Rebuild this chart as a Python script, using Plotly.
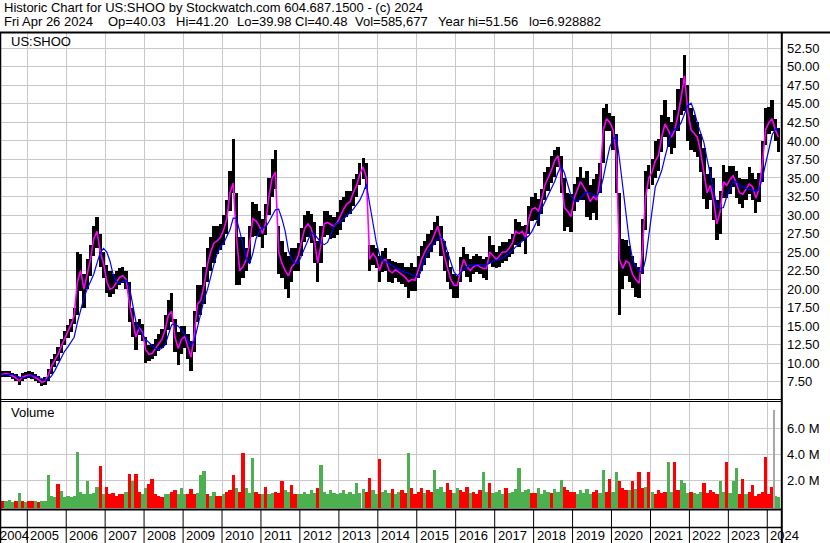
import pandas as pd
import plotly.graph_objects as go

W, H = 830, 543
FONT = "Liberation Sans, Arial, sans-serif"

# one bar per month, Apr 2004 .. Apr 2024
months = pd.period_range("2004-04", "2024-04", freq="M").to_timestamp()

# monthly price range (low / high)
lo = [
    8.0, 8.1, 8.2, 8.1, 7.8, 7.6, 7.0, 7.6, 7.8,                          # 2004 Apr-Dec
    8.0, 7.9, 7.6, 7.3, 6.9, 7.1, 7.6, 8.6, 9.5, 10.3, 11.4, 12.5,        # 2005
    13.4, 14.2, 15.3, 16.5, 19.8, 17.5, 20.0, 21.8, 24.5, 25.5, 23.0, 21.5,
    19.5, 19.0, 19.3, 20.0, 20.5, 20.8, 20.0, 15.5, 13.5, 11.8, 13.8, 13.0,
    10.0, 10.3, 10.6, 11.0, 11.6, 12.0, 12.5, 14.5, 15.5, 11.5, 9.8, 11.2,
    12.0, 10.5, 8.9, 11.5, 15.5, 16.5, 18.0, 21.0, 22.5, 23.5, 24.8, 25.3,
    26.0, 27.5, 30.5, 33.0, 20.5, 20.5, 21.5, 22.5, 23.5, 27.0, 27.2, 27.0,
    25.5, 27.3, 30.0, 32.5, 33.5, 22.0, 21.5, 20.0, 18.8, 21.0, 22.5, 22.5,
    24.5, 26.3, 27.0, 26.2, 23.5, 21.0, 23.5, 27.0, 27.3, 26.8, 26.9, 27.3,
    28.0, 29.0, 29.8, 30.2, 31.2, 32.5, 34.0, 34.8, 33.5, 22.5, 23.2, 22.8,
    21.0, 22.3, 22.5, 21.0, 20.8, 21.5, 21.0, 20.7, 20.3, 18.8, 19.8, 19.8,
    21.5, 22.5, 23.3, 24.2, 25.0, 26.0, 26.5, 24.5, 22.5, 21.0, 20.0, 18.8,
    18.8, 21.0, 22.5, 21.7, 21.0, 22.0, 22.3, 22.0, 21.5, 21.2, 23.5, 23.0,
    22.8, 23.0, 23.5, 23.8, 24.3, 24.7, 26.0, 25.7, 26.5, 24.8, 27.5, 29.2,
    29.3, 28.5, 30.2, 32.0, 33.3, 34.3, 35.2, 36.5, 33.0, 27.8, 28.4, 27.7,
    30.5, 31.8, 32.0, 32.0, 29.8, 29.3, 30.3, 29.3, 33.0, 37.0, 41.3, 41.3,
    38.8, 33.0, 16.5, 20.0, 21.8, 21.0, 20.2, 18.9, 18.8, 22.0, 28.0, 33.5,
    34.0, 35.0, 36.0, 38.5, 40.5, 39.2, 38.3, 39.0, 41.3, 43.5, 44.0, 40.0,
    38.8, 38.5, 37.8, 35.8, 32.2, 30.8, 32.0, 29.3, 26.6, 27.5, 32.3, 32.3,
    32.8, 33.8, 32.3, 31.5, 31.0, 32.0, 32.8, 32.0, 30.3, 31.8, 34.5, 39.5,
    41.0, 41.3, 40.0, 38.5,                                               # 2024 Jan-Apr
]
hi = [
    9.0, 9.0, 9.0, 8.9, 8.7, 8.5, 8.1, 8.7, 8.8,
    8.9, 8.8, 8.6, 8.3, 7.9, 8.1, 9.2, 10.5, 11.3, 12.2, 13.2, 14.3,
    15.2, 16.0, 17.5, 25.0, 24.8, 22.0, 24.0, 26.0, 28.5, 29.8, 27.5, 25.0,
    23.2, 22.5, 22.0, 22.5, 22.8, 23.0, 22.5, 21.0, 17.5, 15.5, 16.0, 15.3,
    13.5, 12.5, 12.6, 13.2, 14.0, 14.6, 16.5, 18.5, 19.5, 16.0, 14.2, 15.0,
    15.0, 14.0, 13.0, 17.0, 20.5, 20.5, 23.0, 25.5, 27.0, 28.5, 28.5, 28.8,
    30.0, 32.0, 36.0, 40.3, 33.0, 27.0, 27.0, 25.5, 28.5, 31.8, 31.5, 30.5,
    29.5, 31.5, 35.0, 37.5, 38.8, 28.5, 26.5, 25.0, 24.5, 25.5, 25.5, 26.2,
    28.3, 30.0, 30.5, 30.2, 29.0, 26.5, 28.5, 30.5, 30.5, 30.0, 29.8, 30.4,
    32.0, 32.5, 33.2, 33.2, 34.8, 35.5, 37.0, 37.7, 37.0, 26.0, 26.0, 25.5,
    24.5, 25.2, 25.5, 24.0, 23.8, 23.7, 23.5, 23.5, 23.0, 23.0, 23.5, 23.0,
    24.5, 25.8, 26.5, 27.5, 28.0, 29.0, 29.9, 28.5, 26.5, 25.0, 23.0, 22.0,
    21.8, 24.3, 25.7, 24.8, 24.0, 24.5, 24.8, 24.5, 24.0, 24.3, 27.2, 26.0,
    25.0, 25.8, 26.3, 26.3, 26.7, 27.5, 29.5, 29.0, 28.5, 28.6, 31.2, 32.5,
    33.0, 32.2, 33.5, 35.8, 36.5, 38.0, 38.8, 39.2, 38.0, 35.0, 33.0, 32.8,
    34.2, 35.2, 36.5, 35.0, 36.0, 34.0, 34.8, 35.5, 37.0, 44.5, 45.0, 43.8,
    43.3, 41.0, 33.0, 26.8, 26.6, 25.8, 24.5, 23.5, 23.0, 29.5, 36.0, 36.8,
    37.5, 40.0, 40.3, 43.5, 45.5, 43.2, 42.5, 44.2, 47.0, 48.5, 51.6, 47.5,
    44.5, 43.5, 42.5, 41.0, 39.0, 35.5, 36.5, 35.0, 32.0, 33.2, 36.7, 35.8,
    36.6, 36.6, 36.0, 35.0, 34.8, 34.8, 36.5, 35.7, 34.8, 35.7, 40.0, 44.5,
    44.6, 45.5, 43.0, 41.8,
]
# short moving average (magenta)
ma_fast = [
    8.4, 8.5, 8.6, 8.5, 8.3, 8.0, 7.6, 8.1, 8.3,
    8.4, 8.3, 8.1, 7.8, 7.4, 7.6, 8.4, 9.6, 10.4, 11.2, 12.3, 13.4,
    14.3, 15.2, 16.5, 21.0, 22.5, 20.0, 22.0, 24.0, 26.8, 27.8, 25.0, 23.5,
    21.0, 20.0, 20.2, 21.0, 21.6, 21.8, 21.3, 18.0, 15.5, 13.5, 14.8, 14.2,
    11.8, 11.2, 11.3, 12.0, 12.6, 13.2, 14.5, 16.5, 17.0, 13.5, 12.0, 13.2,
    13.6, 12.2, 10.8, 14.0, 18.0, 18.5, 20.5, 23.2, 25.0, 26.2, 26.5, 27.0,
    28.0, 29.5, 33.0, 34.3, 27.0, 22.5, 23.0, 24.0, 26.0, 29.5, 29.2, 28.5,
    27.5, 29.0, 32.5, 35.0, 35.8, 25.0, 23.5, 22.5, 21.8, 23.0, 23.5, 24.5,
    26.5, 28.2, 28.8, 28.2, 26.5, 23.5, 26.0, 28.8, 29.0, 28.7, 28.5, 29.0,
    30.0, 30.8, 31.5, 31.8, 33.0, 34.0, 35.5, 36.5, 35.0, 24.0, 24.8, 24.2,
    22.5, 23.8, 24.0, 22.5, 22.2, 22.6, 22.3, 22.0, 21.6, 21.0, 21.3, 21.2,
    22.8, 24.0, 25.0, 25.8, 26.3, 27.5, 28.5, 26.8, 24.5, 22.8, 21.3, 20.5,
    20.5, 22.5, 24.0, 23.0, 22.5, 23.0, 23.3, 23.0, 22.8, 22.8, 25.0, 24.5,
    24.0, 24.5, 25.0, 25.0, 25.5, 26.2, 27.8, 27.5, 27.8, 27.0, 29.5, 30.8,
    31.0, 30.5, 32.0, 34.0, 35.0, 36.0, 37.3, 38.0, 35.5, 31.0, 30.5, 29.8,
    32.3, 33.5, 34.5, 33.8, 33.0, 31.8, 32.5, 32.0, 35.0, 41.5, 43.0, 42.5,
    41.5, 38.0, 24.0, 22.8, 23.8, 23.5, 22.0, 21.3, 20.8, 25.0, 32.5, 35.0,
    35.8, 37.3, 38.0, 40.5, 42.3, 41.5, 40.5, 41.5, 43.5, 46.0, 48.8, 44.0,
    41.5, 41.0, 40.5, 38.5, 35.5, 33.0, 34.0, 31.8, 28.8, 30.5, 34.5, 34.0,
    34.8, 35.3, 34.3, 33.0, 32.8, 33.5, 34.2, 33.8, 32.3, 33.5, 37.0, 41.5,
    42.5, 43.0, 41.5, 40.5,
]
# long moving average (blue)
ma_slow = [
    8.4, 8.4, 8.5, 8.5, 8.5, 8.3, 8.1, 8.0, 8.1,
    8.3, 8.3, 8.3, 8.1, 7.9, 7.7, 7.8, 8.3, 9.0, 9.8, 10.7, 11.6,
    12.2, 12.8, 13.5, 15.5, 17.3, 18.8, 20.0, 21.0, 22.0, 23.5, 24.9, 25.5,
    25.0, 23.8, 22.0, 21.0, 20.8, 21.0, 21.2, 20.3, 17.8, 15.6, 14.6, 13.8,
    13.2, 12.8, 12.4, 12.0, 11.8, 12.0, 12.5, 13.8, 15.2, 15.3, 15.0, 14.5,
    13.9, 13.0, 12.4, 13.0, 14.8, 17.0, 18.6, 19.9, 21.8, 23.3, 24.8, 25.7,
    26.2, 27.1, 28.0, 29.6, 29.5, 27.8, 26.0, 24.2, 23.4, 24.8, 26.8, 27.8,
    28.3, 28.4, 29.1, 29.9, 30.7, 30.8, 29.5, 27.8, 25.2, 24.0, 23.5, 23.5,
    24.6, 25.5, 26.6, 27.6, 27.4, 26.9, 26.3, 26.0, 26.3, 27.3, 28.5, 28.9,
    29.1, 29.5, 29.9, 30.3, 30.8, 31.4, 32.0, 33.0, 34.2, 31.5, 28.8, 26.4,
    24.6, 23.8, 23.7, 23.4, 23.2, 22.9, 22.7, 22.4, 22.3, 22.1, 21.9, 21.7,
    21.6, 22.6, 24.0, 25.0, 25.6, 26.3, 26.8, 27.1, 26.5, 25.0, 23.5, 22.3,
    21.8, 22.2, 22.7, 23.0, 23.2, 23.3, 23.3, 23.3, 23.3, 23.3, 23.5, 23.8,
    23.9, 24.0, 24.2, 24.5, 24.8, 25.2, 25.7, 26.1, 26.5, 26.9, 27.2, 27.8,
    28.7, 29.6, 30.8, 31.7, 32.5, 33.5, 34.5, 35.7, 36.6, 35.7, 34.2, 32.6,
    31.9, 31.8, 32.2, 32.8, 33.1, 32.9, 32.8, 32.5, 33.3, 35.0, 37.2, 39.2,
    40.2, 40.7, 37.5, 34.0, 30.0, 26.5, 24.0, 23.0, 22.4, 22.3, 24.0, 27.5,
    31.0, 33.8, 34.8, 36.0, 37.8, 39.5, 41.2, 41.6, 41.8, 42.5, 43.8, 44.8,
    45.1, 44.0, 42.4, 41.2, 39.8, 37.5, 35.3, 33.2, 31.2, 30.9, 31.0, 32.5,
    33.5, 34.5, 34.5, 34.0, 33.8, 33.6, 33.5, 33.3, 33.2, 33.4, 35.0, 37.0,
    39.0, 40.8, 41.6, 41.7,
]
# volume, millions of shares
volume = [
    0.3, 0.35, 0.4, 0.5, 0.3, 0.35, 1.0, 0.4, 0.3,
    0.35, 0.4, 0.35, 0.3, 0.4, 0.4, 2.4, 0.8, 0.7, 1.7, 1.15, 0.7,
    0.8, 0.7, 0.8, 4.2, 1.1, 0.9, 1.9, 0.9, 1.0, 1.5, 3.1, 0.9,
    1.5, 0.9, 1.0, 0.8, 0.9, 0.9, 1.1, 2.5, 1.9, 2.5, 1.1, 0.9,
    1.4, 1.7, 2.1, 0.9, 0.8, 0.7, 0.9, 0.9, 1.1, 1.2, 0.9, 1.4,
    0.9, 0.9, 1.3, 0.9, 1.0, 2.4, 2.7, 0.9, 0.8, 1.1, 0.8, 0.8,
    0.9, 1.1, 1.2, 2.4, 1.4, 1.1, 4.1, 1.4, 1.0, 3.7, 1.1, 0.9,
    0.9, 1.5, 0.9, 1.0, 1.1, 1.0, 1.9, 1.2, 1.1, 1.6, 0.9, 0.9,
    0.9, 1.1, 0.9, 1.2, 1.0, 1.4, 3.2, 1.1, 0.9, 1.2, 1.0, 0.9,
    1.0, 1.2, 0.9, 1.1, 0.9, 1.8, 1.0, 1.3, 1.1, 2.2, 1.2, 0.9,
    3.6, 1.1, 1.2, 1.0, 1.3, 0.9, 1.1, 1.2, 1.0, 4.1, 1.4, 0.9,
    1.1, 1.4, 1.0, 1.2, 1.1, 2.8, 1.3, 1.5, 1.1, 1.8, 1.2, 1.0,
    1.4, 1.2, 1.1, 1.5, 1.0, 1.1, 0.9, 1.2, 2.6, 1.1, 1.8, 1.0,
    1.1, 1.2, 0.9, 1.4, 1.0, 1.1, 1.3, 2.9, 1.1, 1.2, 1.3, 1.0,
    1.0, 1.4, 0.9, 1.2, 1.1, 1.0, 1.3, 1.1, 2.0, 1.5, 1.2, 1.1,
    1.1, 0.9, 1.2, 1.0, 1.3, 0.9, 1.1, 1.2, 1.0, 2.8, 1.1, 2.1,
    1.1, 2.6, 1.9, 1.4, 1.2, 1.2, 1.9, 1.3, 2.6, 1.4, 1.5, 2.6,
    1.1, 0.9, 1.2, 1.0, 1.1, 3.4, 1.1, 3.4, 1.2, 2.0, 1.8, 1.0,
    1.1, 1.0, 0.9, 1.1, 1.8, 1.0, 1.2, 1.1, 0.9, 1.9, 1.1, 3.4,
    1.0, 1.9, 2.9, 0.9, 2.1, 0.9, 1.1, 1.6, 0.8, 0.9, 1.1, 3.8,
    0.9, 1.5, 0.8, 0.7,
]
# single outsized volume day drawn in grey
spike_dates = ["2024-03-08"]
spike_volume = [7.4]

price_ticks = [7.5, 10.0, 12.5, 15.0, 17.5, 20.0, 22.5, 25.0, 27.5, 30.0,
               32.5, 35.0, 37.5, 40.0, 42.5, 45.0, 47.5, 50.0, 52.5]
price_tick_text = ["7.50", "10.00", "12.50", "15.00", "17.50", "20.00", "22.50",
                   "25.00", "27.50", "30.00", "32.50", "35.00", "37.50", "40.00",
                   "42.50", "45.00", "47.50", "50.00", "52.50"]
volume_ticks = [2, 4, 6]
volume_tick_text = ["2.0 M", "4.0 M", "6.0 M"]
year_labels = ["2004", "2005", "2006", "2007", "2008", "2009", "2010", "2011",
               "2012", "2013", "2014", "2015", "2016", "2017", "2018", "2019",
               "2020", "2021", "2022", "2023", "2024"]

title_line = "Historic Chart for US:SHOO by Stockwatch.com 604.687.1500 - (c) 2024"
quote_fields = ["Fri Apr 26 2024", "Op=40.03", "Hi=41.20", "Lo=39.98", "Cl=40.48",
                "Vol=585,677", "Year hi=51.56", "lo=6.928882"]
quote_x = [2, 106, 174, 235, 293, 353, 436, 527]  # left edge in px

assert len(months) == len(lo) == len(hi) == len(ma_fast) == len(ma_slow) == len(volume)


def py(px):
    return 1 - px / H


# pixel calibration of the time axis: 1 Jan 2005 at x=27.3, 38.95 px per year
PLOT_RIGHT = 781
px_ms = pd.Timedelta(days=365.25).value / 1e6 / 38.95
x0 = pd.Timestamp("2005-01-01") - pd.Timedelta(milliseconds=27.3 * px_ms)
x1 = pd.Timestamp("2005-01-01") + pd.Timedelta(milliseconds=(PLOT_RIGHT - 27.3) * px_ms)
month_ms = 30.6 * 86400000

# up month (close above mid of range) green, otherwise red
vol_colors = ["#4caf50" if f >= (h + l) / 2 else "#ff0000"
              for f, h, l in zip(ma_fast, hi, lo)]
VOL_FLOOR = -0.155

fig = go.Figure()
fig.add_trace(go.Bar(
    x=months, base=lo, y=[h - l for h, l in zip(hi, lo)],
    xperiod="M1", xperiodalignment="middle", width=month_ms,
    marker=dict(color="black", line=dict(width=0)),
    xaxis="x", yaxis="y",
))
fig.add_trace(go.Scatter(
    x=months, y=ma_fast, xperiod="M1", xperiodalignment="middle",
    mode="lines", line=dict(color="#ff00ff", width=1.6),
    xaxis="x", yaxis="y",
))
fig.add_trace(go.Scatter(
    x=months, y=ma_slow, xperiod="M1", xperiodalignment="middle",
    mode="lines", line=dict(color="#0000ff", width=1.2),
    xaxis="x", yaxis="y",
))
fig.add_trace(go.Bar(
    x=months, base=VOL_FLOOR, y=[v - VOL_FLOOR for v in volume],
    xperiod="M1", xperiodalignment="middle", width=month_ms,
    marker=dict(color=vol_colors, line=dict(width=0)),
    xaxis="x2", yaxis="y2",
))
fig.add_trace(go.Bar(
    x=spike_dates, base=VOL_FLOOR, y=[v - VOL_FLOOR for v in spike_volume],
    width=12 * 86400000,
    marker=dict(color="#a8a8a8", line=dict(width=0)),
    xaxis="x2", yaxis="y2",
))

grid = dict(showgrid=True, gridcolor="#c8c8c8", gridwidth=1, zeroline=False,
            showline=False, fixedrange=True)
xdom = [0, PLOT_RIGHT / W]
fig.update_layout(
    width=W, height=H, margin=dict(l=0, r=0, t=0, b=0),
    paper_bgcolor="white", plot_bgcolor="white",
    showlegend=False, barmode="overlay", bargap=0,
    font=dict(family=FONT, size=13, color="black"),
    xaxis=dict(domain=xdom, range=[x0, x1], type="date", tick0="2005-01-01",
               dtick="M12", showticklabels=False, ticks="", anchor="y", **grid),
    xaxis2=dict(domain=xdom, matches="x", type="date", tick0="2005-01-01",
                dtick="M12", showticklabels=False, ticks="", anchor="y2", **grid),
    yaxis=dict(domain=[py(400), py(33)], range=[5.03, 54.57], side="right",
               tickvals=price_ticks, ticktext=price_tick_text, ticks="",
               ticklabelstandoff=5, tickfont=dict(size=13), anchor="x", **grid),
    yaxis2=dict(domain=[py(508), py(402)], range=[VOL_FLOOR, 8.04], side="right",
                tickvals=volume_ticks, ticktext=volume_tick_text, ticks="",
                ticklabelstandoff=5, tickfont=dict(size=13), anchor="x2", **grid),
)

ann = [dict(text=title_line, x=2 / W, y=py(7.5))]
ann += [dict(text=t, x=xp / W, y=py(21.5)) for t, xp in zip(quote_fields, quote_x)]
ann += [dict(text="US:SHOO", x=9 / W, y=py(41.5)),
        dict(text="Volume", x=9 / W, y=py(413))]
for a in ann:
    a.update(xref="paper", yref="paper", xanchor="left", yanchor="middle",
             showarrow=False, font=dict(size=13, color="black"))

# year labels along the bottom strip
ann.append(dict(text=year_labels[0], x=0, xref="paper", y=py(535), yref="paper",
                xanchor="left", yanchor="middle", xshift=-2, showarrow=False,
                font=dict(size=13, color="black")))
for lab in year_labels[1:]:
    ann.append(dict(text=lab, x=f"{lab}-01-01", xref="x", y=py(535), yref="paper",
                    xanchor="left", yanchor="middle", xshift=1, showarrow=False,
                    font=dict(size=13, color="black")))
fig.update_layout(annotations=ann)


def hline(ypx, x_from, x_to, w=1):
    return dict(type="line", xref="paper", yref="paper", x0=x_from / W, x1=x_to / W,
                y0=py(ypx), y1=py(ypx), line=dict(color="black", width=w), layer="above")


def vline(xpx, y_from, y_to, w=1):
    return dict(type="line", xref="paper", yref="paper", x0=xpx / W, x1=xpx / W,
                y0=py(y_from), y1=py(y_to), line=dict(color="black", width=w), layer="above")


shapes = [
    hline(32.5, 0, W, 2),
    hline(399.5, 0, PLOT_RIGHT, 1),
    hline(401.5, 0, PLOT_RIGHT, 1),
    hline(509.5, 0, PLOT_RIGHT, 2),
    hline(527.5, 0, PLOT_RIGHT, 1.5),
    vline(781.8, 32, H, 2),
    vline(0.5, 32, H, 1.5),
]
for lab in year_labels[1:]:
    shapes.append(dict(type="line", xref="x", yref="paper", x0=f"{lab}-01-01",
                       x1=f"{lab}-01-01", y0=py(509.5), y1=0,
                       line=dict(color="black", width=1), layer="above"))
fig.update_layout(shapes=shapes)

# the page's default body margin would shift everything by 8px
fig.write_html("out.html", config={"displayModeBar": False},
               post_script="document.body.style.margin='0';document.body.style.overflow='hidden';")
